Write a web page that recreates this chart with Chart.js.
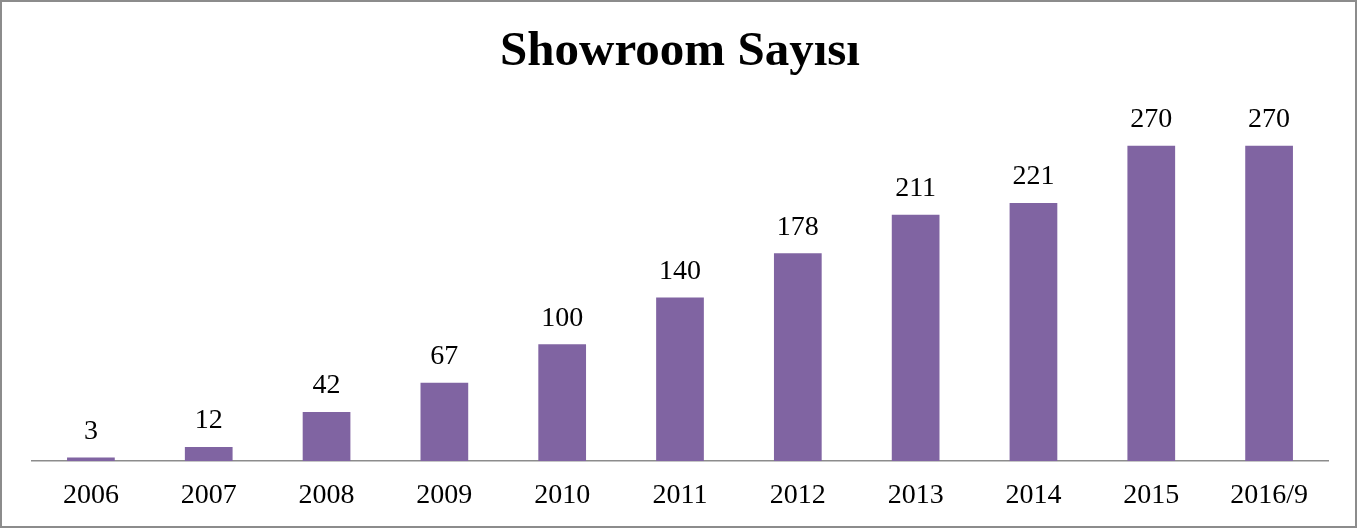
<!DOCTYPE html>
<html>
<head>
<meta charset="utf-8">
<script src="https://cdn.jsdelivr.net/npm/chart.js@4"></script>
<style>
  html, body { margin: 0; padding: 0; background: #fff; }
  #wrap {
    position: relative;
    width: 1357px; height: 528px;
    box-sizing: border-box;
    border: 2px solid #8c8c8c;
  }
  #wrap canvas { position: absolute; left: 0; top: 0; }
</style>
</head>
<body>
<div id="wrap"><canvas id="showroomChart" width="1353" height="524"></canvas></div>
<script>
// values
const years = ['2006', '2007', '2008', '2009', '2010', '2011', '2012', '2013', '2014', '2015', '2016/9'];
const showrooms = [3, 12, 42, 67, 100, 140, 178, 211, 221, 270, 270];

// draws the number above each bar
const barValues = {
    id: 'barValues',
    afterDatasetsDraw(chart) {
        const ctx = chart.ctx;
        const meta = chart.getDatasetMeta(0);
        ctx.save();
        ctx.font = '28px "Liberation Serif"';
        ctx.fillStyle = '#000';
        ctx.textAlign = 'center';
        ctx.textBaseline = 'middle';
        meta.data.forEach(function(bar, i) {
            ctx.fillText(String(showrooms[i]), bar.x, bar.y - 26);
        });
        ctx.restore();
    }
};

const ctx = document.getElementById('showroomChart').getContext('2d');
const chart = new Chart(ctx, {
    type: 'bar',
    data: {
        labels: years,
        datasets: [{
            data: showrooms,
            backgroundColor: '#8064A2',
            borderWidth: 0,
            categoryPercentage: 1.0,
            barPercentage: 0.405
        }]
    },
    options: {
        responsive: false,
        animation: false,
        layout: { padding: { left: 30, right: 27, top: 0, bottom: 0 } },
        plugins: {
            legend: { display: false },
            tooltip: { enabled: false },
            title: {
                display: true,
                text: 'Showroom Sayısı',
                color: '#000',
                font: { family: '"Liberation Serif"', size: 49, weight: 'bold', lineHeight: 1.2 },
                padding: { top: 21, bottom: 29 }
            }
        },
        scales: {
            x: {
                grid: { display: false, drawTicks: false },
                border: { display: true, color: '#8c8c8c', width: 1.5 },
                ticks: {
                    color: '#000',
                    padding: 24,
                    font: { family: '"Liberation Serif"', size: 28, lineHeight: 0.75 }
                },
                afterFit: function(scale) {
                    scale.height = 65;
                }
            },
            y: {
                display: false,
                min: 0,
                max: 300
            }
        }
    },
    plugins: [barValues]
});
</script>
</body>
</html>
